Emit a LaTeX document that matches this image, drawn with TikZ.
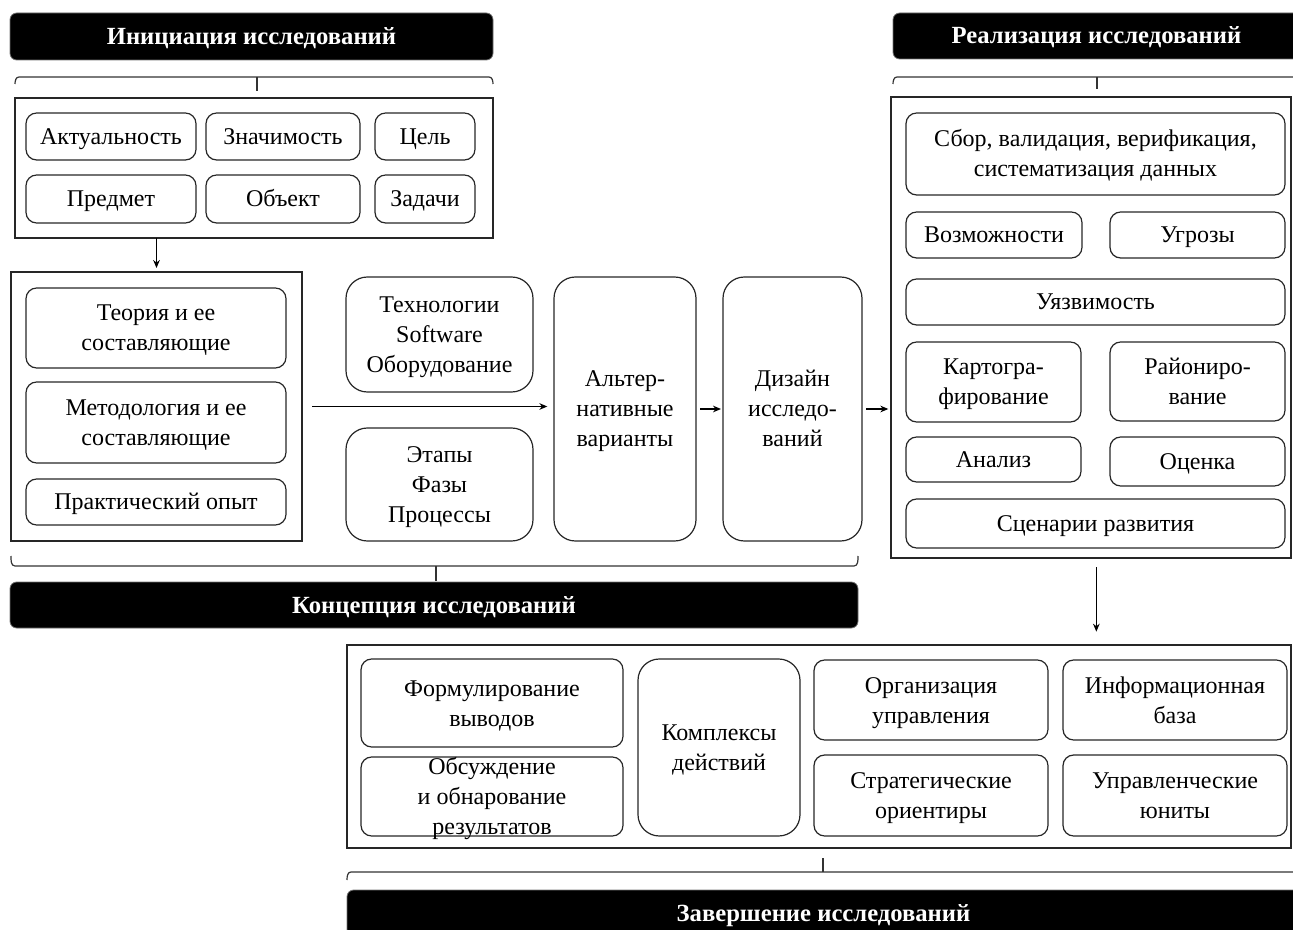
\documentclass[tikz,border=0pt]{standalone}
\usepackage{fontspec}
\setmainfont{Liberation Serif}
\usetikzlibrary{arrows.meta,calc}
\newcommand\mystr{\rule[-5.25pt]{0pt}{22.5pt}}
\tikzset{
  rbox/.style={draw=black!85, line width=0.9pt, rounded corners=8pt, align=center, inner sep=0pt, outer sep=0pt, font=\fontsize{18}{22.5}\selectfont},
  tbox/.style={rbox, rounded corners=16pt},
  obox/.style={draw=black!85, line width=0.9pt, inner sep=0pt, outer sep=0pt},
  hdr/.style={fill=black, draw=black!55, line width=0.6pt, rounded corners=5pt, text=white, font=\bfseries\fontsize{18.5}{20}\selectfont, inner sep=0pt, outer sep=0pt},
  lbl/.style={align=center, inner sep=0pt, font=\fontsize{18}{22.5}\selectfont},
  arr/.style={-{Stealth[length=6pt,width=5pt]}, line width=0.9pt},
  brk/.style={line width=0.9pt, draw=black!80},
}
\newcommand\bx[7][rbox]{\node[#1, minimum width={0.75pt*(#5-#3)}, minimum height={0.75pt*(#6-#4)}] (#2) at ({(#3+#5)/2},{(#4+#6)/2}) {\mystr#7\mystr};}
\begin{document}
\begin{tikzpicture}[x=0.75pt,y=-0.75pt]
\useasboundingbox (0,0) rectangle (1293,930);
% headers
\bx[hdr]{h1}{10}{13}{493}{60}{Инициация исследований}
\bx[hdr]{h2}{893}{13}{1300}{59}{Реализация исследований}
\bx[hdr]{h3}{10}{582}{858}{628}{Концепция исследований}
\bx[hdr]{h4}{347}{890}{1300}{936}{Завершение исследований}
% brackets
\draw[brk] (15,84) to[out=90,in=180] (19,77) -- (489,77) to[out=0,in=90] (493,84);
\draw[brk] (257,77) -- (257,91);
\draw[brk] (893,84) to[out=90,in=180] (897,77) -- (1300,77);
\draw[brk] (1097,77) -- (1097,89);
\draw[brk] (11,556) to[out=-90,in=180] (15,566) -- (854,566) to[out=0,in=-90] (858,556);
\draw[brk] (436,566) -- (436,581);
\draw[brk] (347,880) to[out=90,in=180] (351,872) -- (1300,872);
\draw[brk] (823,858) -- (823,872);
% box 1
\bx[obox]{b1}{15}{98}{493}{238}{}
\bx{act}{26}{113}{196}{160}{Актуальность}
\bx{zn}{206}{113}{360}{160}{Значимость}
\bx{cel}{375}{113}{475}{160}{Цель}
\bx{pred}{26}{175}{196}{223}{Предмет}
\bx{obj}{206}{175}{360}{223}{Объект}
\bx{zad}{375}{175}{475}{223}{Задачи}
% box 2
\bx[obox]{b2}{11}{272}{302}{541}{}
\bx{teo}{26}{288}{286}{368}{Теория и ее\\составляющие}
\bx{met}{26}{382}{286}{463}{Методология и ее\\составляющие}
\bx{pra}{26}{479}{286}{525}{Практический опыт}
% middle
\bx[tbox]{tech}{346}{277}{533}{392}{Технологии\\Software\\Оборудование}
\bx[tbox]{etap}{346}{428}{533}{541}{Этапы\\Фазы\\Процессы}
\bx[tbox]{alt}{554}{277}{696}{541}{Альтер-\\нативные\\варианты}
\bx[tbox]{diz}{723}{277}{862}{541}{Дизайн\\исследо-\\ваний}
% right
\bx[obox]{R}{891}{97}{1291}{558}{}
\bx{sbor}{906}{113}{1285}{195}{Сбор, валидация, верификация,\\систематизация данных}
\bx{voz}{906}{212}{1082}{258}{Возможности}
\bx{ugr}{1110}{212}{1285}{258}{Угрозы}
\bx{uyaz}{906}{279}{1285}{325}{Уязвимость}
\bx{kart}{906}{342}{1081}{422}{Картогра-\\фирование}
\bx{rai}{1110}{342}{1285}{421}{Райониро-\\вание}
\bx{an}{906}{437}{1081}{482}{Анализ}
\bx{oc}{1110}{437}{1285}{486}{Оценка}
\bx{scen}{906}{499}{1285}{548}{Сценарии развития}
% bottom
\bx[obox]{B}{347}{645}{1291}{848}{}
\bx{form}{361}{659}{623}{747}{Формулирование\\выводов}
\bx{obs}{361}{757}{623}{836}{}
\node[lbl] (obst) at (obs.center) {\mystr Обсуждение\\и обнарование\\результатов\mystr};
\bx[tbox]{kom}{638}{659}{800}{836}{Комплексы\\действий}
\bx{org}{814}{660}{1048}{740}{Организация\\управления}
\bx{inf}{1063}{660}{1287}{740}{Информационная\\база}
\bx{str}{814}{755}{1048}{836}{Стратегические\\ориентиры}
\bx{upr}{1063}{755}{1287}{836}{Управленческие\\юниты}
% arrows
\draw[arr, shorten >=3pt] (b1.south -| b2.north) -- (b2.north);
\draw[arr] ([xshift=7.5pt]b2.east) -- ([xshift=-5pt]alt.west |- b2.east);
\draw[arr] ([xshift=3pt]alt.east) -- ([xshift=-1.5pt]diz.west);
\draw[arr] ([xshift=3pt]diz.east) -- ([xshift=-2pt]R.west |- diz.east);
\draw[arr, shorten <=7pt, shorten >=10pt] ([xshift=4pt]R.south) -- ([xshift=4pt]R.south |- B.north);
\end{tikzpicture}
\end{document}
